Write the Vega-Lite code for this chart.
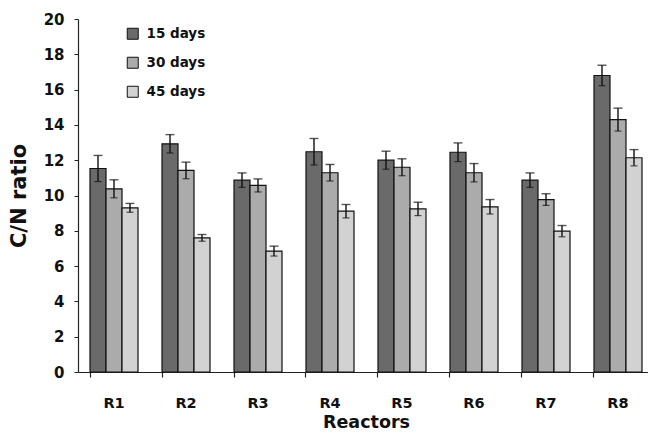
{
  "$schema": "https://vega.github.io/schema/vega-lite/v6.json",
  "width": 576,
  "height": 353,
  "autosize": {"type": "none"},
  "padding": {"left": 78, "top": 19, "right": 0, "bottom": 63},
  "background": "white",
  "config": {
    "view": {"stroke": null},
    "font": "DejaVu Sans",
    "axis": {"labelFont": "DejaVu Sans", "titleFont": "DejaVu Sans", "labelFontWeight": "bold", "titleFontWeight": "bold", "labelColor": "#111", "titleColor": "#111", "domainColor": "#222", "tickColor": "#222", "grid": false, "labelOverlap": false},
    "axisY": {"tickSize": 4, "labelFontSize": 15, "labelPadding": 10, "titleFontSize": 21, "titlePadding": 14, "domainWidth": 1.2}
  },
  "data": {"values": [
    {"reactor": "R1", "period": "15 days", "value": 11.53, "lo": 10.79, "hi": 12.27},
    {"reactor": "R1", "period": "30 days", "value": 10.38, "lo": 9.87, "hi": 10.89},
    {"reactor": "R1", "period": "45 days", "value": 9.30, "lo": 9.05, "hi": 9.55},
    {"reactor": "R2", "period": "15 days", "value": 12.93, "lo": 12.41, "hi": 13.45},
    {"reactor": "R2", "period": "30 days", "value": 11.42, "lo": 10.95, "hi": 11.89},
    {"reactor": "R2", "period": "45 days", "value": 7.60, "lo": 7.41, "hi": 7.79},
    {"reactor": "R3", "period": "15 days", "value": 10.87, "lo": 10.46, "hi": 11.28},
    {"reactor": "R3", "period": "30 days", "value": 10.57, "lo": 10.20, "hi": 10.94},
    {"reactor": "R3", "period": "45 days", "value": 6.85, "lo": 6.57, "hi": 7.13},
    {"reactor": "R4", "period": "15 days", "value": 12.48, "lo": 11.73, "hi": 13.23},
    {"reactor": "R4", "period": "30 days", "value": 11.29, "lo": 10.82, "hi": 11.76},
    {"reactor": "R4", "period": "45 days", "value": 9.11, "lo": 8.73, "hi": 9.49},
    {"reactor": "R5", "period": "15 days", "value": 12.00, "lo": 11.49, "hi": 12.51},
    {"reactor": "R5", "period": "30 days", "value": 11.60, "lo": 11.12, "hi": 12.08},
    {"reactor": "R5", "period": "45 days", "value": 9.24, "lo": 8.86, "hi": 9.62},
    {"reactor": "R6", "period": "15 days", "value": 12.45, "lo": 11.92, "hi": 12.98},
    {"reactor": "R6", "period": "30 days", "value": 11.29, "lo": 10.77, "hi": 11.81},
    {"reactor": "R6", "period": "45 days", "value": 9.36, "lo": 8.95, "hi": 9.77},
    {"reactor": "R7", "period": "15 days", "value": 10.87, "lo": 10.46, "hi": 11.28},
    {"reactor": "R7", "period": "30 days", "value": 9.77, "lo": 9.44, "hi": 10.10},
    {"reactor": "R7", "period": "45 days", "value": 7.98, "lo": 7.66, "hi": 8.30},
    {"reactor": "R8", "period": "15 days", "value": 16.80, "lo": 16.22, "hi": 17.38},
    {"reactor": "R8", "period": "30 days", "value": 14.30, "lo": 13.65, "hi": 14.95},
    {"reactor": "R8", "period": "45 days", "value": 12.14, "lo": 11.68, "hi": 12.60}
  ]},
  "layer": [
    {
      "mark": {"type": "bar", "stroke": "#111", "strokeWidth": 1.2},
      "encoding": {
        "x": {"field": "reactor", "type": "nominal", "sort": null,
          "scale": {"paddingInner": 0.3333, "paddingOuter": 0.1667},
          "axis": {"orient": "bottom", "title": "Reactors", "ticks": false, "labelAngle": 0, "labelFontSize": 14.5, "labelPadding": 24, "labelBaseline": "top", "titleFontSize": 17.5, "titlePadding": 4, "domainWidth": 1.2}},
        "xOffset": {"field": "period", "type": "nominal", "sort": null, "scale": {"paddingInner": 0, "paddingOuter": 0}},
        "y": {"field": "value", "type": "quantitative",
          "scale": {"domain": [0, 20], "nice": false, "zero": true},
          "axis": {"title": "C/N ratio", "values": [0, 2, 4, 6, 8, 10, 12, 14, 16, 18, 20]}},
        "fill": {"field": "period", "type": "nominal", "sort": null,
          "scale": {"domain": ["15 days", "30 days", "45 days"], "range": ["#6a6a6a", "#ababab", "#d2d2d2"]},
          "legend": {"title": null, "orient": "none", "legendX": 48, "legendY": 8, "symbolType": "square", "symbolSize": 121, "symbolStrokeColor": "#111", "symbolStrokeWidth": 1, "symbolOpacity": 1, "labelFont": "DejaVu Sans", "labelFontWeight": "bold", "labelFontSize": 13.5, "labelColor": "#111", "labelOffset": 7, "rowPadding": 13, "padding": 0}}
      }
    },
    {
      "mark": {"type": "rule", "color": "#111", "strokeWidth": 1.4},
      "encoding": {
        "x": {"field": "reactor", "type": "nominal", "sort": null,
          "scale": {"paddingInner": 0.3333, "paddingOuter": 0.1667},
          "axis": {"orient": "bottom", "title": null, "labels": false, "ticks": true, "tickSize": 5, "bandPosition": 0, "domain": false, "tickWidth": 1.2}},
        "xOffset": {"field": "period", "type": "nominal", "sort": null},
        "y": {"field": "lo", "type": "quantitative", "axis": {"title": "C/N ratio", "values": [0, 2, 4, 6, 8, 10, 12, 14, 16, 18, 20]}},
        "y2": {"field": "hi"}
      }
    },
    {
      "mark": {"type": "tick", "color": "#111", "size": 9, "thickness": 1.4},
      "encoding": {
        "x": {"field": "reactor", "type": "nominal", "sort": null, "axis": null},
        "xOffset": {"field": "period", "type": "nominal", "sort": null},
        "y": {"field": "hi", "type": "quantitative", "axis": {"title": "C/N ratio", "values": [0, 2, 4, 6, 8, 10, 12, 14, 16, 18, 20]}}
      }
    },
    {
      "mark": {"type": "tick", "color": "#111", "size": 7, "thickness": 1.2},
      "encoding": {
        "x": {"field": "reactor", "type": "nominal", "sort": null, "axis": null},
        "xOffset": {"field": "period", "type": "nominal", "sort": null},
        "y": {"field": "lo", "type": "quantitative", "axis": {"title": "C/N ratio", "values": [0, 2, 4, 6, 8, 10, 12, 14, 16, 18, 20]}}
      }
    }
  ],
  "resolve": {"axis": {"x": "independent"}}
}
